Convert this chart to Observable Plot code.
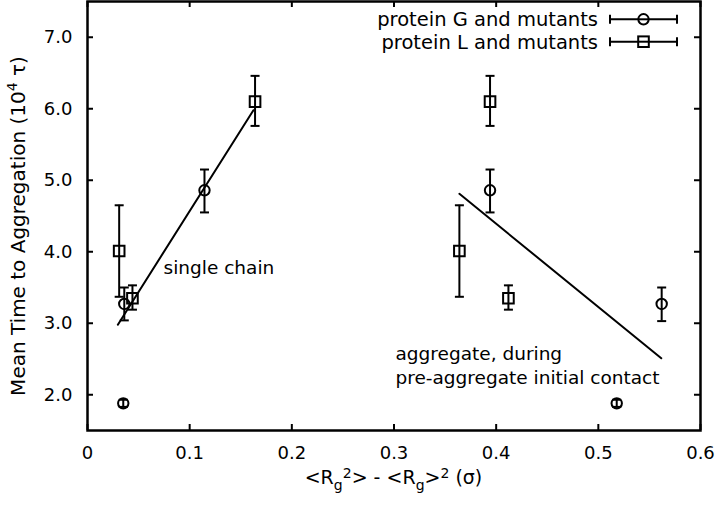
<!DOCTYPE html>
<html>
<head>
<meta charset="utf-8">
<script src="https://cdn.jsdelivr.net/npm/d3@7"></script>
<script src="https://cdn.jsdelivr.net/npm/@observablehq/plot@0.6"></script>
<style>
  html, body { margin: 0; padding: 0; background: #fff; }
  #chart { width: 720px; height: 505px; }
</style>
</head>
<body>
<div id="chart"></div>
<script>
// ---- data ----
const xTicks = [0, 0.1, 0.2, 0.3, 0.4, 0.5, 0.6];
const xTickLabels = ["0", "0.1", "0.2", "0.3", "0.4", "0.5", "0.6"];
const yTicks = [2, 3, 4, 5, 6, 7];
const yTickLabels = ["2.0", "3.0", "4.0", "5.0", "6.0", "7.0"];

// protein G and mutants (circles)
const gX  = [0.035, 0.036, 0.1145, 0.394, 0.518, 0.562];
const gY  = [1.88, 3.27, 4.86, 4.86, 1.88, 3.27];
const gLo = [1.83, 3.04, 4.55, 4.55, 1.83, 3.03];
const gHi = [1.93, 3.50, 5.15, 5.15, 1.93, 3.50];

// protein L and mutants (squares)
const lX  = [0.031, 0.044, 0.164, 0.364, 0.394, 0.412];
const lY  = [4.01, 3.35, 6.10, 4.01, 6.10, 3.35];
const lLo = [3.37, 3.19, 5.76, 3.37, 5.76, 3.19];
const lHi = [4.65, 3.53, 6.46, 4.65, 6.46, 3.53];

// fit lines
const fitSingleX = [0.0297, 0.1624];
const fitSingleY = [2.98, 5.98];
const fitAggX = [0.364, 0.5616];
const fitAggY = [4.81, 2.51];

// annotations
const noteText = ["single chain", "aggregate, during", "pre-aggregate initial contact"];
const noteX = [0.0744, 0.3015, 0.3015];
const noteY = [3.77, 2.574, 2.238];

const legendLabels = ["protein G and mutants", "protein L and mutants"];

// ---- build tables ----
const G = gX.map((x, i) => ({x, y: gY[i], lo: gLo[i], hi: gHi[i]}));
const L = lX.map((x, i) => ({x, y: lY[i], lo: lLo[i], hi: lHi[i]}));
const fitSingle = fitSingleX.map((x, i) => ({x, y: fitSingleY[i]}));
const fitAgg = fitAggX.map((x, i) => ({x, y: fitAggY[i]}));
const notes = noteText.map((t, i) => ({t, x: noteX[i], y: noteY[i]}));

const W = 720, H = 505, mL = 87, mR = 20, mT = 1, mB = 75;
const pw = W - mL - mR, ph = H - mT - mB;
const FONT = "DejaVu Sans";

const capSymbol = {
  draw(ctx) { ctx.moveTo(-4.5, 0); ctx.lineTo(4.5, 0); }
};

const plot = Plot.plot({
  width: W, height: H,
  marginLeft: mL, marginRight: mR, marginTop: mT, marginBottom: mB,
  style: {fontFamily: FONT, fontSize: "18px", color: "#000", background: "#fff"},
  x: {domain: [0, 0.6]},
  y: {domain: [1.5, 7.5]},
  marks: [
    Plot.axisX(xTicks, {tickSize: 0, tickPadding: 16, tickFormat: (d, i) => xTickLabels[i], label: null, fontSize: 18}),
    Plot.axisY(yTicks, {tickSize: 0, tickPadding: 15, tickFormat: (d, i) => yTickLabels[i], label: null, fontSize: 18}),
    // inward ticks on all four sides
    Plot.tickX(xTicks, {x: d => d, insetTop: ph - 6, strokeWidth: 2}),
    Plot.tickX(xTicks, {x: d => d, insetBottom: ph - 6, strokeWidth: 2}),
    Plot.tickY(yTicks, {y: d => d, insetRight: pw - 6, strokeWidth: 2}),
    Plot.tickY(yTicks, {y: d => d, insetLeft: pw - 6, strokeWidth: 2}),
    // fit lines
    Plot.line(fitSingle, {x: "x", y: "y", stroke: "#000", strokeWidth: 2}),
    Plot.line(fitAgg, {x: "x", y: "y", stroke: "#000", strokeWidth: 2}),
    // error bars
    Plot.ruleX(G, {x: "x", y1: "lo", y2: "hi", stroke: "#000", strokeWidth: 2}),
    Plot.ruleX(L, {x: "x", y1: "lo", y2: "hi", stroke: "#000", strokeWidth: 2}),
    Plot.dot(G, {x: "x", y: "lo", symbol: capSymbol, fill: "none", stroke: "#000", strokeWidth: 2}),
    Plot.dot(G, {x: "x", y: "hi", symbol: capSymbol, fill: "none", stroke: "#000", strokeWidth: 2}),
    Plot.dot(L, {x: "x", y: "lo", symbol: capSymbol, fill: "none", stroke: "#000", strokeWidth: 2}),
    Plot.dot(L, {x: "x", y: "hi", symbol: capSymbol, fill: "none", stroke: "#000", strokeWidth: 2}),
    // markers
    Plot.dot(G, {x: "x", y: "y", symbol: "circle", r: 5.2, fill: "none", stroke: "#000", strokeWidth: 2}),
    Plot.dot(L, {x: "x", y: "y", symbol: "square", r: 6, fill: "none", stroke: "#000", strokeWidth: 2}),
    // annotations
    Plot.text(notes, {x: "x", y: "y", text: "t", textAnchor: "start", lineAnchor: "middle", fontSize: 18.5, fill: "#000"}),
    Plot.frame({stroke: "#000", strokeWidth: 2.5})
  ]
});

document.getElementById("chart").appendChild(plot);
const svg = d3.select(plot);

// ---- legend ----
const legendRowsY = [19.3, 41.7];
const sampleX1 = 610, sampleX2 = 677, sampleXc = 643.5, textRight = 598;
legendLabels.forEach((lab, i) => {
  const cy = legendRowsY[i];
  svg.append("text").attr("x", textRight).attr("y", cy + 6.8)
    .attr("text-anchor", "end").attr("font-family", FONT).attr("font-size", 19.5)
    .attr("fill", "#000").text(lab);
  const g = svg.append("g").attr("stroke", "#000").attr("stroke-width", 2).attr("fill", "none");
  g.append("line").attr("x1", sampleX1).attr("x2", sampleX2).attr("y1", cy).attr("y2", cy);
  g.append("line").attr("x1", sampleX1).attr("x2", sampleX1).attr("y1", cy - 4.5).attr("y2", cy + 4.5);
  g.append("line").attr("x1", sampleX2).attr("x2", sampleX2).attr("y1", cy - 4.5).attr("y2", cy + 4.5);
  if (i === 0) {
    g.append("circle").attr("cx", sampleXc).attr("cy", cy).attr("r", 5.2).attr("fill", "#fff");
  } else {
    g.append("rect").attr("x", sampleXc - 5.3).attr("y", cy - 5.3).attr("width", 10.6).attr("height", 10.6).attr("fill", "#fff");
  }
  g.append("line").attr("x1", sampleXc - 5).attr("x2", sampleXc + 5).attr("y1", cy).attr("y2", cy);
});

// ---- axis titles ----
const xl = svg.append("text")
  .attr("x", mL + pw / 2).attr("y", 484)
  .attr("text-anchor", "middle").attr("font-family", FONT).attr("font-size", 19).attr("fill", "#000");
xl.append("tspan").text("<R");
xl.append("tspan").attr("font-size", 14).attr("dy", 6).text("g");
xl.append("tspan").attr("font-size", 14).attr("dy", -12).text("2");
xl.append("tspan").attr("dy", 6).text("> - <R");
xl.append("tspan").attr("font-size", 14).attr("dy", 6).text("g");
xl.append("tspan").attr("dy", -6).text(">");
xl.append("tspan").attr("font-size", 14).attr("dy", -6).text("2");
xl.append("tspan").attr("dy", 6).text(" (σ)");

const yl = svg.append("text")
  .attr("transform", `translate(25, 226) rotate(-90)`)
  .attr("text-anchor", "middle").attr("font-family", FONT).attr("font-size", 20).attr("fill", "#000");
yl.append("tspan").text("Mean Time to Aggregation (10");
yl.append("tspan").attr("font-size", 14).attr("dy", -8).text("4");
yl.append("tspan").attr("dy", 8).text(" τ)");
</script>
</body>
</html>
